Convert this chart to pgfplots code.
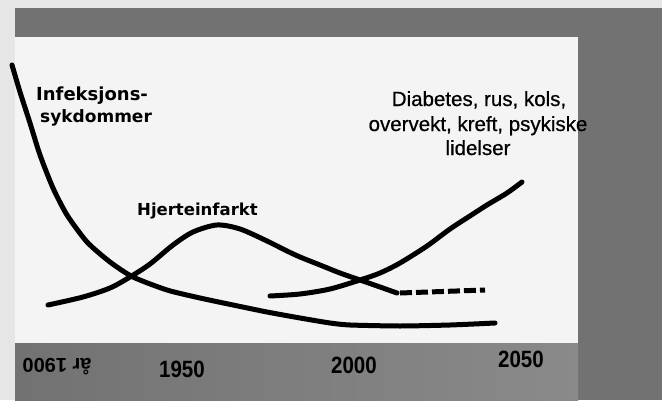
\documentclass[border=0pt]{standalone}
\usepackage{pgfplots}
\pgfplotsset{compat=1.18}
\usepackage{graphicx}
\usepackage{fontspec}
\setmainfont{Liberation Sans}
\newfontfamily\dvs{DejaVu Sans}
\newfontfamily\heavysans[FakeBold=0.6]{Liberation Sans}
\definecolor{bandgray}{HTML}{727272}
\definecolor{bandgraylight}{HTML}{8A8A8A}
\definecolor{panel}{HTML}{F4F4F4}
\definecolor{margin}{HTML}{E6E6E6}
\begin{document}
\begin{tikzpicture}
\begin{axis}[
  set layers,
  scale only axis,
  width=662pt, height=400pt,
  xmin=0, xmax=662, ymin=0, ymax=400,
  y dir=reverse,
  axis lines=none,
  clip=false,
]
\begin{pgfonlayer}{axis background}
  \fill[margin] (axis cs:0,0) rectangle (axis cs:662,400);
  \fill[panel] (axis cs:15,37) rectangle (axis cs:578,343);
  \fill[bandgray] (axis cs:15,8) rectangle (axis cs:662,37);
  \fill[bandgray] (axis cs:578,8) rectangle (axis cs:662,400);
  \shade[left color=bandgray, right color=bandgraylight] (axis cs:15,343) rectangle (axis cs:578,400);
\end{pgfonlayer}

% Infeksjonssykdommer
\addplot[black, line width=5pt, line cap=round, smooth, tension=0.4] coordinates {
(12,65) (20,92) (30,123) (40,155) (53,188) (67,215) (87,242) (110,262)
(133,277) (167,290) (200,298) (233,305) (267,312) (300,318) (330,323)
(350,325) (400,326) (450,325) (495,323)};

% Hjerteinfarkt
\addplot[black, line width=5pt, line cap=round, smooth, tension=0.5] coordinates {
(48,305) (83,297) (110,288) (130,277) (150,264) (173,245) (193,232)
(217,225) (240,229) (267,241) (287,251) (300,257) (320,265) (340,273)
(360,280) (380,287) (397,293)};
\addplot[black, line width=5pt, dash pattern=on 12pt off 4pt] coordinates {
(400,293) (485,290)};

% Diabetes etc.
\addplot[black, line width=5pt, line cap=round, smooth, tension=0.5] coordinates {
(270,296) (300,294) (330,289) (360,280) (380,273) (400,263) (427,246)
(450,229) (473,214) (487,205) (507,193) (522,182)};

% labels
\node[anchor=base west, inner sep=0pt, font=\dvs\bfseries\fontsize{18}{22}\selectfont] at (axis cs:36,100) {Infeksjons-};
\node[anchor=base west, inner sep=0pt, font=\dvs\bfseries\fontsize{17}{22}\selectfont] at (axis cs:40,123) {sykdommer};
\node[anchor=base west, inner sep=0pt, font=\dvs\bfseries\fontsize{16.5}{20}\selectfont] at (axis cs:137,215) {Hjerteinfarkt};

\node[anchor=base, inner sep=0pt, font=\heavysans\fontsize{20.5}{24}\selectfont] at (axis cs:479,106) {Diabetes, rus, kols,};
\node[anchor=base, inner sep=0pt, font=\heavysans\fontsize{20.5}{24}\selectfont] at (axis cs:478,131) {overvekt, kreft, psykiske};
\node[anchor=base, inner sep=0pt, font=\heavysans\fontsize{20.5}{24}\selectfont] at (axis cs:478,155) {lidelser};

% year labels
\node[anchor=base, inner sep=0pt, rotate=180, font=\bfseries\fontsize{20}{24}\selectfont] at (axis cs:57,358) {år 1900};
\node[anchor=base, inner sep=0pt, font=\bfseries\fontsize{20.5}{24}\selectfont] at (axis cs:182,377) {\scalebox{1}[1.15]{1950}};
\node[anchor=base, inner sep=0pt, font=\bfseries\fontsize{20.5}{24}\selectfont] at (axis cs:354,373) {\scalebox{1}[1.15]{2000}};
\node[anchor=base, inner sep=0pt, font=\bfseries\fontsize{20.5}{24}\selectfont] at (axis cs:521,367) {\scalebox{1}[1.15]{2050}};
\end{axis}
\end{tikzpicture}
\end{document}
